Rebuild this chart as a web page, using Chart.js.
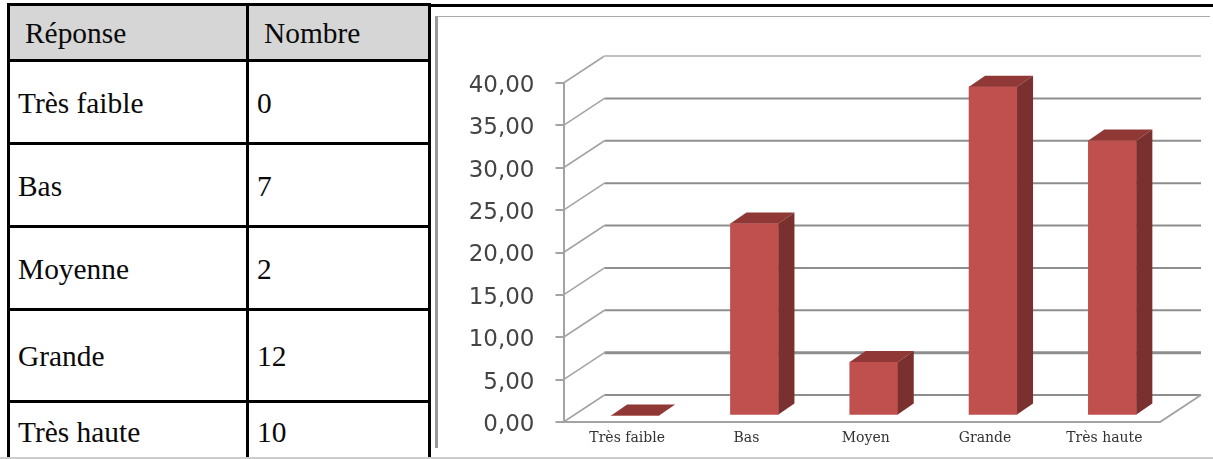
<!DOCTYPE html>
<html lang="fr">
<head>
<meta charset="utf-8">
<title>Réponse / Nombre</title>
<script src="https://cdn.jsdelivr.net/npm/chart.js@4/dist/chart.umd.min.js"></script>
<style>
  html, body { margin: 0; padding: 0; background: #fff; }
  #page { position: relative; width: 1213px; height: 459px; overflow: hidden; }
  table { position: absolute; left: 7px; top: 3px; width: 424px; table-layout: fixed; border-collapse: collapse;
          font-family: "Liberation Serif", serif; font-size: 29.4px; color: #0a0a0a; }
  td, th { border: 3px solid #000; padding: 2px 0 0 8px; font-weight: normal; text-align: left; box-sizing: border-box; }
  th { background: #d6d6d6; padding-left: 15px; }
  #topbar { position: absolute; left: 430px; top: 4px; right: 0; height: 3px; background: #000; }
  #frame { position: absolute; left: 435px; top: 16px; right: 3px; height: 432px; box-sizing: border-box;
           border-top: 1.5px solid #aaa; border-left: 3px solid #999; }
  #foot { position: absolute; left: 0; right: 0; top: 457px; height: 2px; background: #ccc; }
  canvas { position: absolute; left: 0; top: 0; }
</style>
</head>
<body>
<div id="page">
  <table id="tableau">
    <colgroup><col style="width:239px"><col></colgroup>
    <thead><tr style="height:56px"><th>Réponse</th><th>Nombre</th></tr></thead>
    <tbody></tbody>
  </table>
  <div id="topbar"></div>
  <div id="frame"></div>
  <div id="foot"></div>
  <canvas id="graphique" width="1213" height="459"></canvas>
</div>
<script>
  // Table de gauche
  const reponses = ['Très faible', 'Bas', 'Moyenne', 'Grande', 'Très haute'];
  const nombres = [0, 7, 2, 12, 10];

  // Histogramme de droite (pourcentages)
  const categories = ['Très faible', 'Bas', 'Moyen', 'Grande', 'Très haute'];
  const pourcentages = [0, 22.65, 6.3, 38.8, 32.45];

  const hauteursLignes = [83, 83, 83, 92, 60];
  const corps = document.querySelector('#tableau tbody');
  reponses.forEach(function(rep, i) {
    const tr = document.createElement('tr');
    tr.style.height = hauteursLignes[i] + 'px';
    const a = document.createElement('td');
    a.textContent = rep;
    const b = document.createElement('td');
    b.textContent = nombres[i];
    tr.append(a, b);
    corps.appendChild(tr);
  });

  // Faux 3D : profondeur du plancher et décalage/épaisseur des barres
  const plancher = { dx: 41, dy: -27 };
  const barre = { decX: 12, decY: -6.5, dx: 16, dy: -11 };

  const effet3d = {
    id: 'effet3d',
    beforeDatasetsDraw(chart) {
      const c = chart.ctx, y = chart.scales.y, aire = chart.chartArea;
      c.save();
      y.ticks.forEach(function(t) {
        const py = y.getPixelForValue(t.value);
        // diagonale sur le mur gauche
        c.strokeStyle = '#a3a3a3';
        c.lineWidth = 1.5;
        c.beginPath();
        c.moveTo(aire.left, py);
        c.lineTo(aire.left + plancher.dx, py + plancher.dy);
        c.stroke();
        // ligne du mur du fond
        c.strokeStyle = t.value === 40 ? '#c0c0c0' : '#8e8e8e';
        c.lineWidth = t.value === 5 ? 3 : 2;
        c.beginPath();
        c.moveTo(aire.left + plancher.dx, py + plancher.dy);
        c.lineTo(aire.right + plancher.dx, py + plancher.dy);
        c.stroke();
      });
      // bord du plancher
      const p0 = y.getPixelForValue(0);
      c.strokeStyle = '#a3a3a3';
      c.lineWidth = 2;
      c.beginPath();
      c.moveTo(aire.left, p0);
      c.lineTo(aire.right, p0);
      c.lineTo(aire.right + plancher.dx, p0 + plancher.dy);
      c.stroke();
      c.restore();
      // les barres sont posées au milieu du plancher
      c.save();
      c.translate(barre.decX, barre.decY);
    },
    afterDatasetsDraw(chart) {
      const c = chart.ctx;
      c.restore();
      c.save();
      chart.getDatasetMeta(0).data.forEach(function(el) {
        const g = el.x - el.width / 2 + barre.decX;
        const d = el.x + el.width / 2 + barre.decX;
        const h = el.y + barre.decY;
        const b = el.base + barre.decY;
        // dessus
        c.fillStyle = '#8f3836';
        c.beginPath();
        c.moveTo(g, h);
        c.lineTo(g + barre.dx, h + barre.dy);
        c.lineTo(d + barre.dx, h + barre.dy);
        c.lineTo(d, h);
        c.closePath();
        c.fill();
        // côté
        if (b - h > 0) {
          c.fillStyle = '#7a302e';
          c.beginPath();
          c.moveTo(d, h);
          c.lineTo(d + barre.dx, h + barre.dy);
          c.lineTo(d + barre.dx, b + barre.dy);
          c.lineTo(d, b);
          c.closePath();
          c.fill();
        }
      });
      c.restore();
    }
  };

  const ctx = document.getElementById('graphique').getContext('2d');
  const graphique = new Chart(ctx, {
    type: 'bar',
    data: {
      labels: categories,
      datasets: [{
        data: pourcentages,
        backgroundColor: '#c0504d',
        barThickness: 48,
        clip: false
      }]
    },
    options: {
      responsive: false,
      animation: false,
      layout: { padding: { left: 440, right: 53, top: 83, bottom: 0 } },
      plugins: { legend: { display: false }, tooltip: { enabled: false } },
      scales: {
        x: {
          afterFit: function(axe) { axe.height = 37; },
          grid: { display: false },
          border: { display: false },
          ticks: {
            padding: 0,
            labelOffset: 4,
            maxRotation: 0,
            autoSkip: false,
            color: '#333',
            font: { family: '"DejaVu Serif"', size: 14 }
          }
        },
        y: {
          min: 0,
          max: 40,
          afterFit: function(axe) { axe.width = 123.5; },
          grid: { drawOnChartArea: false, color: '#a3a3a3', lineWidth: 2, tickLength: 8 },
          border: { display: true, color: '#a3a3a3', width: 2 },
          ticks: {
            stepSize: 5,
            padding: 21,
            labelOffset: 3,
            color: '#444',
            font: { family: '"DejaVu Sans"', size: 23 },
            callback: function(value) {
              return value.toFixed(2).replace('.', ',');
            }
          }
        }
      }
    },
    plugins: [effet3d]
  });
</script>
</body>
</html>
